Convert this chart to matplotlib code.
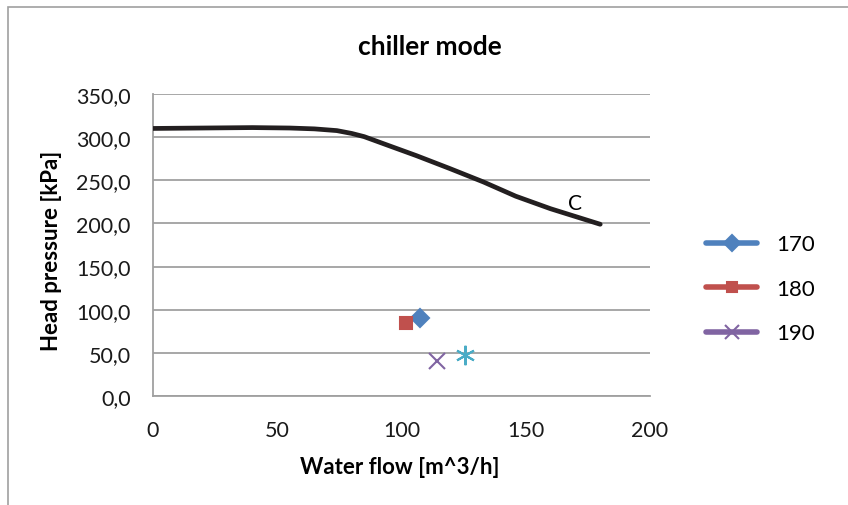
import numpy as np
import matplotlib.pyplot as plt
from matplotlib.patches import Rectangle
from matplotlib.ticker import FuncFormatter

plt.rcParams['font.family'] = ['Lato', 'DejaVu Sans']

# pump curve "C"
curve_x = [0, 20, 40, 55, 65, 74, 80, 85, 95, 106, 119.5, 133, 146, 160, 170, 180]
curve_y = [310, 310.5, 311, 310.5, 309.5, 307.5, 304.2, 300.5, 290, 278.5, 263.5, 248, 231.5, 217, 208, 199]

# measured points
series_names = ['170', '180', '190']
series_x = [107.4, 101.8, 114.3]
series_y = [90.5, 84.7, 40.6]
extra_x = [125.5]
extra_y = [47.6]

colors = ['#4F81BD', '#C0504D', '#8064A2']
markers = ['D', 's', 'x']
sizes = [9, 9, 12]
leg_sizes = [8, 7.5, 10]

fig = plt.figure(figsize=(8.48, 5.06), dpi=100)
fig.patches.append(Rectangle((8 / 848, -0.1), 1.1, 1 - 8 / 506 + 0.1, transform=fig.transFigure,
                             fill=False, edgecolor='#A0A0A0', lw=1.2))
ax = fig.add_axes([0.1804, 0.2154, 0.586, 0.597])

ax.plot(curve_x, curve_y, color='#231F20', lw=3.4, solid_capstyle='round', zorder=3)
ax.text(170, 212, 'C', fontsize=15, ha='center', va='bottom')

handles = []
for name, x, y, c, m, ms, lms in zip(series_names, series_x, series_y, colors, markers, sizes, leg_sizes):
    ax.plot([x], [y], marker=m, color=c, ms=ms, mew=1.5, ls='none', zorder=4)
    h, = ax.plot([], [], marker=m, color=c, ms=lms, mew=1.5, lw=4, solid_capstyle='round')
    handles.append(h)
ax.plot(extra_x, extra_y, marker=(6, 2, 0), color='#4BACC6', ms=14, mew=1.5, ls='none', zorder=4)

ax.set_xlim(0, 200)
ax.set_ylim(0, 350)
ax.set_xticks(np.arange(0, 201, 50))
ax.set_yticks(np.arange(0, 351, 50))
ax.yaxis.set_major_formatter(FuncFormatter(lambda v, p: f'{v:.1f}'.replace('.', ',')))
ax.grid(axis='y', color='#A0A0A0', lw=1.3)
ax.set_axisbelow(True)
for s in ['top', 'right']:
    ax.spines[s].set_visible(False)
for s in ['left', 'bottom']:
    ax.spines[s].set_color('#A0A0A0')
    ax.spines[s].set_linewidth(1.3)
ax.tick_params(length=0, labelsize=15.5, colors='#1A1A1A')
ax.tick_params(axis='x', pad=17)
ax.tick_params(axis='y', pad=16)

fig.text(430 / 848, 1 - 47 / 506, 'chiller mode', fontsize=19, fontweight='bold',
         ha='center', va='center')
fig.text(400 / 848, 1 - 468 / 506, 'Water flow [m^3/h]', fontsize=16, fontweight='bold',
         ha='center', va='center')
fig.text(52 / 848, 1 - 251 / 506, 'Head pressure [kPa]', fontsize=16, fontweight='bold',
         ha='center', va='center', rotation=90)

fig.legend(handles, series_names, loc='center left',
           bbox_to_anchor=(0.809, 0.427), frameon=False, fontsize=16,
           handlelength=2.3, labelspacing=1.1, handletextpad=0.85)

plt.savefig('out.png')
